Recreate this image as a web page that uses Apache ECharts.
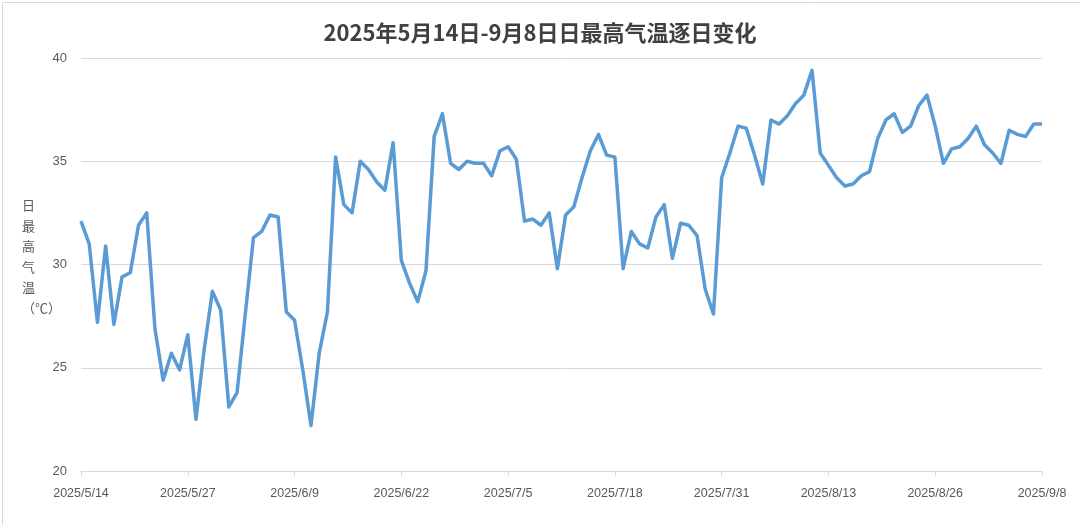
<!DOCTYPE html>
<html>
<head>
<meta charset="utf-8">
<script src="https://cdn.jsdelivr.net/npm/echarts@6/dist/echarts.min.js"></script>
<style>
html,body{margin:0;padding:0;background:#fff;}
#chart{width:1080px;height:525px;}
</style>
</head>
<body>
<div id="chart"></div>
<script>
const titleText = '2025年5月14日-9月8日日最高气温逐日变化';
const yAxisName = ['日','最','高','气','温','（℃）'];
const startDate = [2025, 5, 14];
const dayCount = 118;
const tempValues = [
  32.1, 31.0, 27.2, 30.9, 27.1, 29.4, 29.6, 31.9, 32.5, 26.9,
  24.4, 25.7, 24.9, 26.6, 22.5, 25.9, 28.7, 27.8, 23.1, 23.8,
  27.6, 31.3, 31.6, 32.4, 32.3, 27.7, 27.3, 24.9, 22.2, 25.7,
  27.7, 35.2, 32.9, 32.5, 35.0, 34.6, 34.0, 33.6, 35.9, 30.2,
  29.1, 28.2, 29.7, 36.2, 37.3, 34.9, 34.6, 35.0, 34.9, 34.9,
  34.3, 35.5, 35.7, 35.1, 32.1, 32.2, 31.9, 32.5, 29.8, 32.4,
  32.8, 34.2, 35.5, 36.3, 35.3, 35.2, 29.8, 31.6, 31.0, 30.8,
  32.3, 32.9, 30.3, 32.0, 31.9, 31.4, 28.8, 27.6, 34.2, 35.4,
  36.7, 36.6, 35.3, 33.9, 37.0, 36.8, 37.2, 37.8, 38.2, 39.4,
  35.4, 34.8, 34.2, 33.8, 33.9, 34.3, 34.5, 36.1, 37.0, 37.3,
  36.4, 36.7, 37.7, 38.2, 36.7, 34.9, 35.6, 35.7, 36.1, 36.7,
  35.8, 35.4, 34.9, 36.5, 36.3, 36.2, 36.8, 36.8
];
const yTicks = [20, 25, 30, 35, 40];

// build category labels (one per day)
const categories = [];
{
  const d = new Date(startDate[0], startDate[1] - 1, startDate[2]);
  for (let i = 0; i < dayCount; i++) {
    categories.push(d.getFullYear() + '/' + (d.getMonth() + 1) + '/' + d.getDate());
    d.setDate(d.getDate() + 1);
  }
}

const chart = echarts.init(document.getElementById('chart'));
chart.setOption({
  animation: false,
  backgroundColor: '#ffffff',
  title: {
    text: titleText,
    left: 'center',
    top: 17,
    textStyle: {
      fontFamily: 'Noto Sans CJK SC',
      fontSize: 22,
      fontWeight: 'bold',
      color: '#404040'
    }
  },
  grid: { left: 81, right: 38, top: 58, bottom: 54, containLabel: false },
  xAxis: {
    type: 'category',
    data: categories,
    boundaryGap: false,
    axisLine: { lineStyle: { color: '#d9d9d9', width: 1 } },
    axisTick: { show: true, interval: 12, length: 5, lineStyle: { color: '#d9d9d9' } },
    axisLabel: {
      interval: 12,
      color: '#595959',
      fontSize: 12.5,
      fontFamily: 'Liberation Sans Narrow, Liberation Sans, sans-serif',
      margin: 16
    },
    splitLine: { show: false }
  },
  yAxis: {
    type: 'value',
    min: yTicks[0],
    max: yTicks[yTicks.length - 1],
    interval: 5,
    axisLine: { show: false },
    axisTick: { show: false },
    axisLabel: {
      color: '#595959',
      fontSize: 13,
      fontFamily: 'Liberation Sans, sans-serif',
      margin: 14
    },
    splitLine: { lineStyle: { color: '#d9d9d9', width: 1 } }
  },
  graphic: [
    {
      type: 'rect',
      left: 0, top: 0,
      shape: { x: 0.5, y: 0.5, width: 1079, height: 524 },
      style: { fill: 'none', stroke: '#d9d9d9', lineWidth: 1 },
      silent: true
    },
    {
      type: 'text',
      left: 22,
      top: 195,
      style: {
        text: yAxisName.join('\n'),
        fontFamily: 'Noto Sans CJK SC',
        fontSize: 13,
        lineHeight: 20.5,
        fill: '#595959',
        align: 'left'
      }
    }
  ],
  series: [{
    type: 'line',
    data: tempValues,
    symbol: 'none',
    smooth: false,
    lineStyle: { color: '#5b9bd5', width: 3.5, join: 'round' },
    itemStyle: { color: '#5b9bd5' }
  }]
});
</script>
</body>
</html>
